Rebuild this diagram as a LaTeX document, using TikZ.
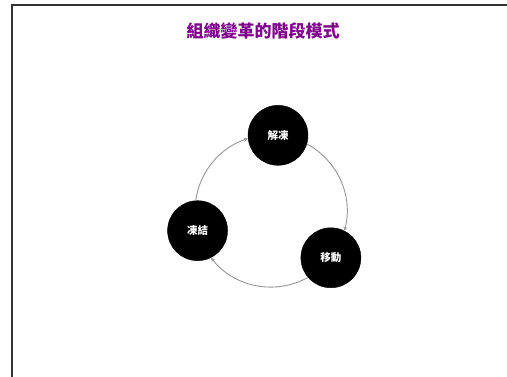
\documentclass[tikz,border=0pt]{standalone}
\usepackage{fontspec}
\newfontfamily\cjk{Noto Sans CJK TC}
\newfontfamily\cjkbold{Noto Sans CJK TC Black}
\usetikzlibrary{arrows.meta,calc}
\definecolor{titlepurple}{RGB}{128,0,140}
\definecolor{ringgray}{RGB}{150,150,150}
\tikzset{
  stage/.style={circle, fill=black, draw=black, minimum size=60pt, inner sep=0pt, text=white, font=\cjk\bfseries\fontsize{10.5}{12}\selectfont},
  ring/.style={draw=ringgray, line width=0.9pt, -{Stealth[length=4pt,width=4pt]}},
}
\begin{document}
\begin{tikzpicture}[x=1pt,y=1pt]
\useasboundingbox (0,0) rectangle (507,376);
\fill[white] (0,0) rectangle (507,376);
\begin{scope}
\clip (0,0) rectangle (507,376);
\draw[line width=1.2pt, black!80] (12,-20) -- (12,371) -- (530,371);
\end{scope}
\node[text=titlepurple, font=\cjk\bfseries\fontsize{17}{19}\selectfont] (title) at (263,345) {組織變革的階段模式};
\coordinate (C) at (271,165);
\node[stage] (thaw) at ($(C)+(84.7:76)$) {解凍};
\node[stage] (move) at ($(C)+(-38:76)$) {移動};
\node[stage] (freeze) at ($(C)+(195:76)$) {凍結};
\draw[ring] ($(C)+(61.7:76)$) arc[start angle=61.7, end angle=-15, radius=76];
\draw[ring] ($(C)+(-61:76)$) arc[start angle=-61, end angle=-142, radius=76];
\draw[ring] ($(C)+(-188:76)$) arc[start angle=-188, end angle=-252.3, radius=76];
\end{tikzpicture}
\end{document}
